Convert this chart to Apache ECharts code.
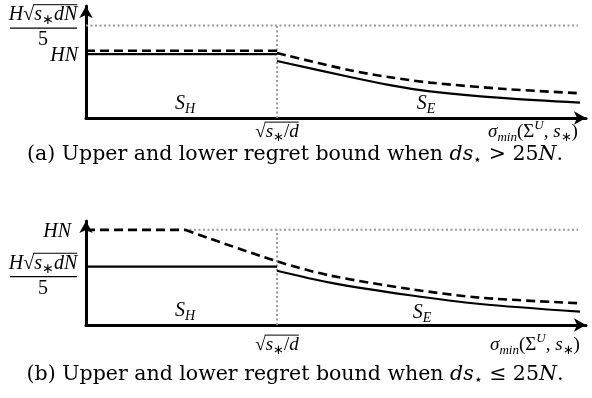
<!DOCTYPE html>
<html lang="en">
<head>
<meta charset="UTF-8">
<title>Regret bounds</title>
<script src="https://cdn.jsdelivr.net/npm/echarts@6/dist/echarts.min.js"></script>
<style>
  html, body { margin: 0; padding: 0; background: #fff; }
  #chart { width: 592px; height: 398px; }
</style>
</head>
<body>
<div id="chart"></div>
<script>
  // x: sigma_min, 0..100 ; y: regret, 0..100 (schematic units)
  const xSplit = 38.2;   // sqrt(s*/d)
  const xEnd = 98.4;     // end of dotted level lines

  // (a) ds* > 25N
  const aLevel = 82.5;   // H sqrt(s* d N) / 5
  const aUpperFlat = [[0, 60], [xSplit, 60]];
  const aLowerFlat = [[0, 57], [xSplit, 57]];
  const aUpperCurve = [[xSplit, 58], [52.8, 42.6], [60.8, 36.4], [68.8, 31.6], [83.8, 25.9], [98.8, 22.1]];
  const aLowerCurve = [[xSplit, 50.9], [52.8, 36.6], [60.8, 29.4], [68.8, 23.8], [83.8, 17.7], [98.8, 13.7]];

  // (b) ds* <= 25N
  const bLevel = 91.5;   // HN
  const bKnee = 19.8;
  const bUpperFlat = [[0, bLevel], [bKnee, bLevel]];
  const bUpperCurve = [[bKnee, bLevel], [xSplit, 61.2], [48.8, 47.6], [64.8, 34.6], [78.8, 26.3], [98.8, 20.9]];
  const bLowerFlat = [[0, 56.1], [xSplit, 56.1]];
  const bLowerCurve = [[xSplit, 52.2], [48.8, 40.8], [64.8, 28.6], [78.8, 20.2], [98.8, 12.8]];

  const chart = echarts.init(document.getElementById('chart'));

  const axisLine = { show: true, onZero: false, symbol: ['none', 'arrow'], symbolSize: [10, 12],
    lineStyle: { color: '#000', width: 3 } };
  function axis(i) {
    return { gridIndex: i, type: 'value', min: 0, max: 100, axisLine: axisLine,
      axisTick: { show: false }, axisLabel: { show: false }, splitLine: { show: false } };
  }
  function line(i, data, kind, smooth) {
    const st = { color: '#000', width: 2.2, type: 'solid' };
    if (kind === 'dash') { st.width = 2.6; st.type = [9, 5]; }
    if (kind === 'dot') { st.color = '#9a9a9a'; st.width = 2; st.type = [2, 2.5]; }
    return { type: 'line', xAxisIndex: i, yAxisIndex: i, data: data, symbol: 'none',
      smooth: smooth ? 0.3 : false, lineStyle: st,
      z: kind === 'dot' ? 1 : 2, silent: true };
  }

  chart.setOption({
    animation: false,
    grid: [
      { left: 86, top: 6, width: 500, height: 112 },
      { left: 86, top: 221, width: 500, height: 104 }
    ],
    xAxis: [axis(0), axis(1)],
    yAxis: [axis(0), axis(1)],
    series: [
      line(0, [[0, aLevel], [xEnd, aLevel]], 'dot'),
      line(0, [[xSplit, 0], [xSplit, aLevel]], 'dot'),
      line(0, aUpperFlat, 'dash'),
      line(0, aLowerFlat, 'solid'),
      line(0, aUpperCurve, 'dash', true),
      line(0, aLowerCurve, 'solid', true),
      line(1, [[bKnee, bLevel], [xEnd, bLevel]], 'dot'),
      line(1, [[xSplit, 0], [xSplit, bLevel]], 'dot'),
      line(1, bUpperFlat, 'dash'),
      line(1, bLowerFlat, 'solid'),
      line(1, bUpperCurve, 'dash', true),
      line(1, bLowerCurve, 'solid', true)
    ]
  });

  // ---- math-ish text labels ----
  const mctx = document.createElement('canvas').getContext('2d');
  const LABEL_FONT = '"Liberation Serif"';
  const CAP_FONT = '"DejaVu Serif"';

  function runSize(r, size) { return (r.sub || r.sup) ? Math.round(size * 0.68) : size; }
  function mathText(runs, cx, cy, size, family, align) {
    const els = [];
    const widths = runs.map(function (r) {
      mctx.font = (r.it ? 'italic ' : '') + runSize(r, size) + 'px ' + family;
      return mctx.measureText(r.t).width;
    });
    const total = widths.reduce(function (a, b) { return a + b; }, 0);
    let x = align === 'right' ? cx - total : align === 'left' ? cx : cx - total / 2;
    let b0 = null, b1 = null;
    runs.forEach(function (r, i) {
      const dy = r.sub ? size * 0.28 : r.sup ? -size * 0.32 : 0;
      els.push({ type: 'text', x: x, y: cy + dy, silent: true,
        style: { text: r.t, fontSize: runSize(r, size), fontFamily: family,
          fontStyle: r.it ? 'italic' : 'normal', fill: '#000',
          textAlign: 'left', textVerticalAlign: 'middle', align: 'left', verticalAlign: 'middle' } });
      if (r.bar) { if (b0 === null) b0 = x; b1 = x + widths[i]; }
      x += widths[i];
    });
    if (b0 !== null) {
      const yb = cy - size * 0.52;
      els.push({ type: 'line', silent: true, shape: { x1: b0 - 1, y1: yb, x2: b1, y2: yb },
        style: { stroke: '#000', lineWidth: 1 } });
    }
    return els;
  }
  function fraction(cx, cyBar, size) {
    const num = [{ t: 'H', it: true }, { t: '√' }, { t: 's', it: true, bar: true },
      { t: '∗', sub: true, bar: true }, { t: 'dN', it: true, bar: true }];
    return mathText(num, cx, cyBar - 13, size, LABEL_FONT, 'center').concat([
      { type: 'line', silent: true, shape: { x1: cx - 33, y1: cyBar, x2: cx + 34, y2: cyBar },
        style: { stroke: '#000', lineWidth: 1.3 } }
    ]).concat(mathText([{ t: '5' }], cx, cyBar + 12, size, LABEL_FONT, 'center'));
  }

  const HN = [{ t: 'HN', it: true }];
  const SH = [{ t: 'S', it: true }, { t: 'H', it: true, sub: true }];
  const SE = [{ t: 'S', it: true }, { t: 'E', it: true, sub: true }];
  const ROOT = [{ t: '√' }, { t: 's', it: true, bar: true }, { t: '∗', sub: true, bar: true },
    { t: '/', bar: true }, { t: 'd', it: true, bar: true }];
  const SIGMA = [{ t: 'σ', it: true }, { t: 'min', it: true, sub: true }, { t: '(Σ' },
    { t: 'U', it: true, sup: true }, { t: ', ' }, { t: 's', it: true }, { t: '∗', sub: true }, { t: ')' }];
  function caption(tag, rel) {
    return [{ t: '(' + tag + ') Upper and lower regret bound when ' }, { t: 'ds', it: true },
      { t: '⋆', sub: true }, { t: ' ' + rel + ' 25' }, { t: 'N', it: true }, { t: '.' }];
  }

  function px(i, x, y) { return chart.convertToPixel({ gridIndex: i }, [x, y]); }

  let g = [];
  // panel (a)
  const aTop = px(0, 0, aLevel), aLow = px(0, 0, aLowerFlat[0][1]), aOrig = px(0, 0, 0);
  const aSplit = px(0, xSplit, 0);
  g = g.concat(fraction(43, aTop[1] + 2.5, 20));
  g = g.concat(mathText(HN, aOrig[0] - 8, aLow[1] + 1.5, 20, LABEL_FONT, 'right'));
  g = g.concat(mathText(SH, 185, aOrig[1] - 14, 20, LABEL_FONT, 'center'));
  g = g.concat(mathText(SE, 426, aOrig[1] - 14, 20, LABEL_FONT, 'center'));
  g = g.concat(mathText(ROOT, aSplit[0], aOrig[1] + 14, 19, LABEL_FONT, 'center'));
  g = g.concat(mathText(SIGMA, 533, aOrig[1] + 14, 19, LABEL_FONT, 'center'));
  g = g.concat(mathText(caption('a', '>'), 295, 155, 20.5, CAP_FONT, 'center'));
  // panel (b)
  const bTop = px(1, 0, bLevel), bLow = px(1, 0, bLowerFlat[0][1]), bOrig = px(1, 0, 0);
  const bSplit = px(1, xSplit, 0);
  g = g.concat(mathText(HN, bOrig[0] - 15, bTop[1] + 1.5, 20, LABEL_FONT, 'right'));
  g = g.concat(fraction(43, bLow[1] + 10, 20));
  g = g.concat(mathText(SH, 185, bOrig[1] - 14, 20, LABEL_FONT, 'center'));
  g = g.concat(mathText(SE, 422, bOrig[1] - 12, 20, LABEL_FONT, 'center'));
  g = g.concat(mathText(ROOT, bSplit[0], bOrig[1] + 20, 19, LABEL_FONT, 'center'));
  g = g.concat(mathText(SIGMA, 535, bOrig[1] + 20, 19, LABEL_FONT, 'center'));
  g = g.concat(mathText(caption('b', '≤'), 295, 375, 20.5, CAP_FONT, 'center'));

  chart.setOption({ graphic: { elements: g } });
</script>
</body>
</html>
